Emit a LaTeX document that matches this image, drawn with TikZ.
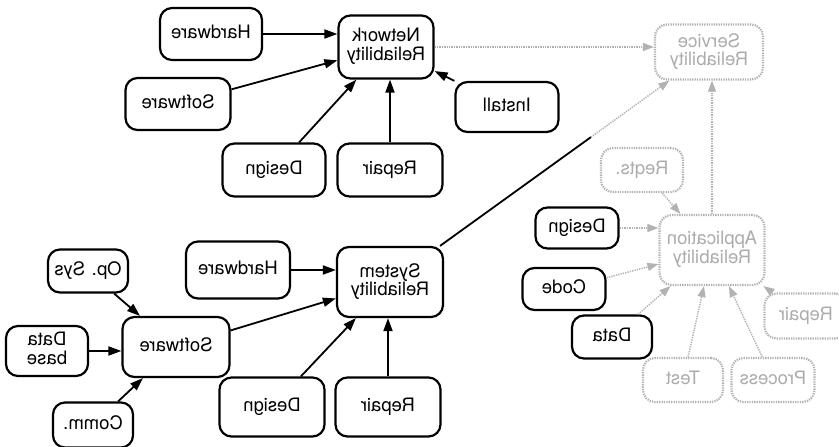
\documentclass[tikz,border=0pt]{standalone}
\usepackage{fontspec}
\setmainfont{TeX Gyre Heros}
\usetikzlibrary{arrows.meta,calc}
% labels are printed mirror-wise
\newcommand{\mirtext}[1]{\reflectbox{\renewcommand{\arraystretch}{0.82}\begin{tabular}{@{}c@{}}#1\end{tabular}}}

\tikzset{
  box/.style={draw, line width=2.2pt, rounded corners=12pt, inner sep=2pt,
    font=\fontsize{18.5}{21}\selectfont},
  sz/.style 2 args={minimum width=#1pt, minimum height=#2pt},
  faint/.style={draw=gray!60, dash pattern=on 1.3pt off 1.1pt, text=gray!65},
  link/.style={line width=1.8pt, -{Triangle[length=13pt,width=9pt]}},
  faintlink/.style={line width=1.5pt, draw=gray!60, dash pattern=on 1.3pt off 1.1pt,
    -{Triangle[length=11pt,width=8pt]}},
}

\begin{document}
\begin{tikzpicture}[x=1pt, y=-1pt]
\useasboundingbox (0,0) rectangle (839,447);

% ---- network branch ----
\node[box, sz={102}{52}] (hw1)  at (211,34)  {\mirtext{Hardware}};
\node[box, sz={95}{63}]  (net)  at (386,47)  {\mirtext{Network\\Reliability}};
\node[box, sz={105}{52}] (sw1)  at (178,104) {\mirtext{Software}};
\node[box, sz={103}{53}] (des1) at (274,170) {\mirtext{Design}};
\node[box, sz={105}{53}] (rep1) at (390,170) {\mirtext{Repair}};
\node[box, sz={103}{50}] (inst) at (507,107) {\mirtext{Install}};

\draw[link] (hw1) -- (hw1 -| net.west);
\draw[link] (sw1) -- (net);
\draw[link] (des1) -- (net);
\draw[link] (rep1) -- (rep1 |- net.south);
\draw[link] (inst) -- (net);

% ---- system branch ----
\node[box, sz={80}{43}]  (ops)  at (88,271)  {\mirtext{Op. Sys}};
\node[box, sz={82}{50}]  (db)   at (47,351)  {\mirtext{Data\\base}};
\node[box, sz={107}{60}] (sw2)  at (176,347) {\mirtext{Software}};
\node[box, sz={80}{45}]  (comm) at (93,425)  {\mirtext{Comm.}};
\node[box, sz={104}{57}] (hw2)  at (238,270) {\mirtext{Hardware}};
\node[box, sz={106}{70}] (sys)  at (390,282) {\mirtext{System\\Reliability}};
\node[box, sz={105}{59}] (des2) at (272,407) {\mirtext{Design}};
\node[box, sz={105}{59}] (rep2) at (388,407) {\mirtext{Repair}};

\draw[link] (ops) -- (sw2);
\draw[link] (db) -- (db -| sw2.west);
\draw[link] (comm) -- (sw2);
\draw[link] (sw2) -- (sys);
\draw[link] (hw2) -- (hw2 -| sys.west);
\draw[link] (des2) -- (sys);
\draw[link] (rep2) -- (rep2 |- sys.south);

% ---- application branch and top node ----
\node[box, faint, sz={108}{55}] (svc)   at (709,52)  {\mirtext{Service\\Reliability}};
\node[box, faint, sz={82}{44}]  (reqts) at (642,170) {\mirtext{Reqts.}};
\node[box, sz={83}{41}]         (des3)  at (577,228) {\mirtext{Design}};
\node[box, faint, sz={105}{70}] (app)   at (712,250) {\mirtext{Application\\Reliability}};
\node[box, sz={83}{42}]         (code)  at (564,289) {\mirtext{Code}};
\node[box, sz={80}{43}]         (data)  at (612,337) {\mirtext{Data}};
\node[box, faint, sz={80}{44}]  (test)  at (683,380) {\mirtext{Test}};
\node[box, faint, sz={83}{44}]  (proc)  at (773,380) {\mirtext{Process}};
\node[box, faint, sz={83}{45}]  (rep3)  at (806,316) {\mirtext{Repair}};

\draw[faintlink] (reqts) -- (app);
\draw[faintlink] (des3) -- (des3 -| app.west);
\draw[faintlink] (code) -- (app);
\draw[faintlink] (data) -- (app);
\draw[faintlink] (test) -- (app);
\draw[faintlink] (proc) -- (app);
\draw[faintlink] (rep3) -- (app);
\draw[faintlink] (app) -- (app |- svc.south);

% links into the top node
\draw[faintlink] (net) -- (net -| svc.west);
\coordinate (sysmid) at ($(sys)!0.63!(svc)$);
\draw[line width=1.8pt] (sys) -- (sysmid);
\draw[faintlink] (sysmid) -- (svc);
\end{tikzpicture}
\end{document}
